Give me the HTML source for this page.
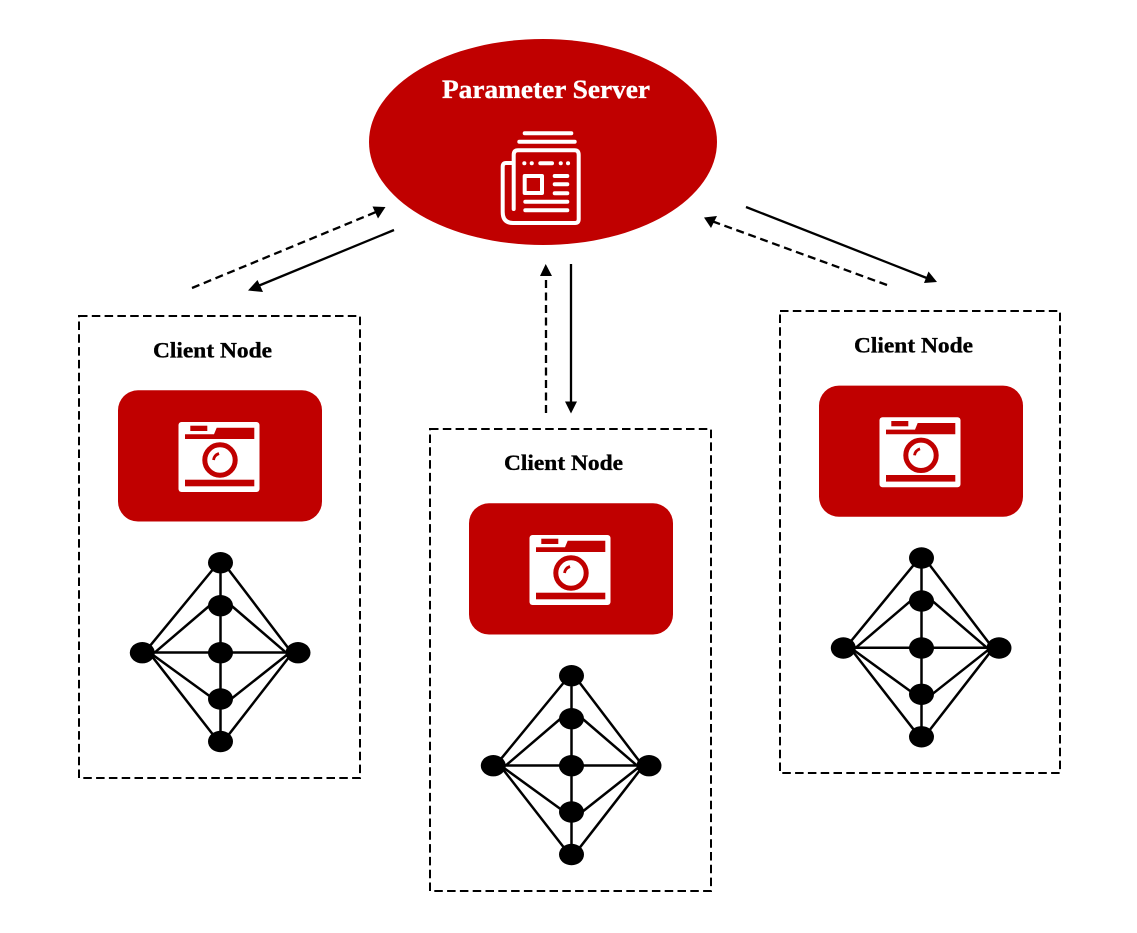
<!DOCTYPE html>
<html><head><meta charset="utf-8"><style>
html,body{margin:0;padding:0;background:#fff;width:1137px;height:933px;overflow:hidden}
svg{display:block}
text{font-family:"Liberation Serif",serif;font-weight:bold}
</style></head><body>
<svg width="1137" height="933" viewBox="0 0 1137 933" xmlns="http://www.w3.org/2000/svg">
<defs>
<g id="client">
  <rect x="118" y="390.300" width="204" height="131.200" rx="20" fill="#c00000"/>
  <rect x="178.500" y="422" width="81" height="70" rx="3" fill="#fff"/>
  <rect x="190.300" y="425.700" width="17" height="5.300" fill="#c00000"/>
  <path d="M185 434.300H214L216.700 427.700H254.300V439H185Z" fill="#c00000"/>
  <circle cx="220" cy="460" r="15.200" fill="none" stroke="#c00000" stroke-width="5"/>
  <path d="M213.500 460C214 456.500 216 454.500 219 453.500" fill="none" stroke="#c00000" stroke-width="2.800"/>
  <rect x="185" y="479.700" width="69.300" height="6.600" fill="#c00000"/>
  <g stroke="#000" stroke-width="2.500" fill="none">
    <path d="M220.500 563V741"/>
    <path d="M142.300 652.500H298"/>
    <path d="M146 650.700L219 562M222 561L292 653M148 651.200L219 742.400M222 743.300L293 652"/>
    <path d="M155 652.300L215 601M226 601L285.700 652.300M153 655L215 700M226 703L286.700 655"/>
  </g>
  <g fill="#000">
    <ellipse cx="220.500" cy="562.700" rx="12.500" ry="10.700"/>
    <ellipse cx="220.500" cy="605.700" rx="12.500" ry="10.700"/>
    <ellipse cx="220.500" cy="652.700" rx="12.500" ry="10.700"/>
    <ellipse cx="220.500" cy="699" rx="12.500" ry="10.700"/>
    <ellipse cx="220.500" cy="741.500" rx="12.500" ry="10.700"/>
    <ellipse cx="142.300" cy="652.700" rx="12.500" ry="10.700"/>
    <ellipse cx="298" cy="652.700" rx="12.500" ry="10.700"/>
  </g>
</g>
</defs>

<ellipse cx="543" cy="142" rx="174" ry="103" fill="#c00000"/>
<text x="546" y="98" text-anchor="middle" font-size="26" fill="#fff" stroke="#fff" stroke-width="0.350" textLength="208" lengthAdjust="spacingAndGlyphs">Parameter Server</text>

<g fill="none" stroke="#fff" stroke-width="4" stroke-linecap="round" stroke-linejoin="round">
  <path d="M524.700 133.300H571.300M519.300 141.700H574.700"/>
  <path d="M513.700 209V155Q513.700 150.300 518 150.300H574.500Q578.700 150.300 578.700 155V219Q578.700 223 575 223H513Q502.700 223 502.700 212V167Q502.700 163 506 163H512"/>
  <rect x="524.700" y="176" width="17.300" height="17" stroke-linecap="butt"/>
  <path d="M554.700 176H567.300M554.700 184.300H567.300M554.700 193.300H567.300M525.300 201.700H567.300M525.300 210.300H567.300"/>
  <path d="M540.300 163.300H552"/>
  <path d="M524.300 163.300H524.400M531.700 163.300H531.800M560.700 163.300H560.800M568 163.300H568.100"/>
</g>

<g fill="none" stroke="#000" stroke-width="2" stroke-dasharray="8.500 4.300">
  <rect x="79" y="316" width="281" height="462"/>
  <rect x="430" y="429" width="281" height="462"/>
  <rect x="780" y="311" width="280" height="462"/>
</g>

<use href="#client"/>
<use href="#client" x="351" y="113"/>
<use href="#client" x="701" y="-4.700"/>

<g stroke="#000" stroke-width="0.350">
<text x="212.500" y="357.500" text-anchor="middle" font-size="22" fill="#000" textLength="119" lengthAdjust="spacingAndGlyphs">Client Node</text>
<text x="563.500" y="470" text-anchor="middle" font-size="22" fill="#000" textLength="119" lengthAdjust="spacingAndGlyphs">Client Node</text>
<text x="913.500" y="352.500" text-anchor="middle" font-size="22" fill="#000" textLength="119" lengthAdjust="spacingAndGlyphs">Client Node</text>
</g>

<g stroke="#000" stroke-width="2.300" fill="none">
  <path d="M192 288L376 212" stroke-dasharray="8 4.700"/>
  <path d="M394 230L258 286"/>
  <path d="M546 413V274" stroke-dasharray="8 4.500"/>
  <path d="M571 264V403"/>
  <path d="M746 207L928 278.500"/>
  <path d="M887 285L713 221.500" stroke-dasharray="8 4.700"/>
</g>
<g fill="#000">
  <path d="M385.500 207L378 218.500L372.500 206.500Z"/>
  <path d="M248 290.500L257.500 280L263 292Z"/>
  <path d="M545.700 264L552 276H540Z"/>
  <path d="M571 413.500L565 401.500H577Z"/>
  <path d="M937 282L924 283L928.500 271.500Z"/>
  <path d="M704 217.500L717 216L711 228Z"/>
</g>
</svg>
</body></html>
